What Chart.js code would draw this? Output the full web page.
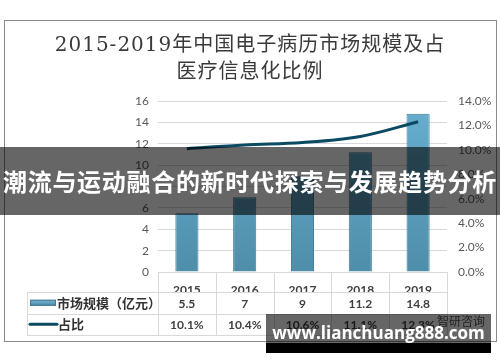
<!DOCTYPE html>
<html>
<head>
<meta charset="utf-8">
<script src="https://cdn.jsdelivr.net/npm/chart.js@4.4.0/dist/chart.umd.min.js"></script>
<style>
  html, body { margin: 0; padding: 0; background: #fff; }
  #wrap { position: relative; width: 500px; height: 362px; overflow: hidden; }
  #chart { position: absolute; left: 0; top: 0; }
  #frame { position: absolute; left: 4px; top: 20px; width: 491px; height: 320px; border: 1px solid #8a8a8a; }
  #title { position: absolute; left: 0; top: 31px; width: 500px; text-align: center; color: #3a3a3a;
           font: 20px/27px "DejaVu Serif", "Noto Sans CJK SC", serif; letter-spacing: 1px; }
  #band { position: absolute; left: 0; top: 147px; width: 500px; height: 68px; background: rgba(0,0,0,0.6);
          color: #fff; font: bold 24px/68px "Noto Sans CJK SC", sans-serif; text-align: center; white-space: nowrap;
          letter-spacing: 0.7px; }
  #wmGray { position: absolute; left: 266px; top: 314px; width: 225px; height: 29px; background: rgba(0,0,0,0.6); }
  #wmBlack { position: absolute; left: 266px; top: 343px; width: 225px; height: 10px; background: #000; }
  #wmSrc { position: absolute; left: 437px; top: 313px; color: #222; font: 12px/16px "Noto Sans CJK SC", sans-serif; }
  #wmText { position: absolute; left: 266px; top: 321px; width: 225px; text-align: center; color: #fff;
            font: bold 17px/24px "Open Sans", sans-serif; white-space: nowrap; }
</style>
</head>
<body>
<div id="wrap">
  <div id="frame"></div>
  <canvas id="chart" width="500" height="362"></canvas>
  <div id="title">2015-2019年中国电子病历市场规模及占<br>医疗信息化比例</div>
  <div id="band">潮流与运动融合的新时代探索与发展趋势分析</div>
  <div id="wmGray"></div>
  <div id="wmBlack"></div>
  <div id="wmSrc">智研咨询</div>
  <div id="wmText">www.lianchuang888.com</div>
</div>
<script>
// data
const years = ["2015", "2016", "2017", "2018", "2019"];
const marketSize = [5.5, 7, 9, 11.2, 14.8];      // 亿元
const shareRatio = [10.1, 10.4, 10.6, 11.1, 12.3]; // %
const sizeName = "市场规模（亿元）";
const ratioName = "占比";
const leftTicks = [0, 2, 4, 6, 8, 10, 12, 14, 16];
const rightTicks = [0, 2, 4, 6, 8, 10, 12, 14];

const lineColor = "#0b4a62";
const gridColor = "#d9d9d9";
const textColor = "#404040";

function barGradient(ctx, area) {
  const g = ctx.createLinearGradient(0, area.top, 0, area.bottom);
  g.addColorStop(0, "#67afd1");
  g.addColorStop(1, "#4f8ea9");
  return g;
}

// draws the data table under the x axis (Excel style)
const tablePlugin = {
  id: "dataTable",
  afterDraw(chart) {
    const ctx = chart.ctx;
    const x = chart.scales.x;
    const area = chart.chartArea;
    const step = (area.right - area.left) / years.length;
    const left = 27;
    const rows = [area.bottom, 292, 313.5, 335];

    ctx.save();
    ctx.strokeStyle = gridColor;
    ctx.lineWidth = 1;
    ctx.beginPath();
    ctx.moveTo(area.left, rows[0] + 0.5); ctx.lineTo(area.right, rows[0] + 0.5);
    for (let i = 1; i < rows.length; i++) {
      ctx.moveTo(left, Math.round(rows[i]) + 0.5);
      ctx.lineTo(area.right, Math.round(rows[i]) + 0.5);
    }
    for (let i = 0; i <= years.length; i++) {
      const vx = Math.round(area.left + step * i) + 0.5;
      ctx.moveTo(vx, rows[0]); ctx.lineTo(vx, rows[3]);
    }
    ctx.moveTo(left + 0.5, rows[1]); ctx.lineTo(left + 0.5, rows[3]);
    ctx.stroke();

    // values
    ctx.fillStyle = textColor;
    ctx.font = "bold 12px Lato, sans-serif";
    ctx.textAlign = "center";
    ctx.textBaseline = "middle";
    years.forEach((y, i) => {
      const cx = x.getPixelForValue(i);
      ctx.fillText(String(marketSize[i]), cx, (rows[1] + rows[2]) / 2 + 1);
      ctx.fillText(shareRatio[i].toFixed(1) + "%", cx, (rows[2] + rows[3]) / 2 + 1);
    });

    // legend keys
    const sy = (rows[1] + rows[2]) / 2;
    const g = ctx.createLinearGradient(0, sy - 3, 0, sy + 3);
    g.addColorStop(0, "#7cbbd8");
    g.addColorStop(1, "#4a87a3");
    ctx.fillStyle = g;
    ctx.fillRect(30, sy - 3, 26, 6);
    ctx.strokeStyle = "#3f7890";
    ctx.strokeRect(30.5, sy - 2.5, 25, 5);

    const ly = (rows[2] + rows[3]) / 2;
    ctx.strokeStyle = lineColor;
    ctx.lineWidth = 3;
    ctx.lineCap = "round";
    ctx.beginPath();
    ctx.moveTo(30, ly); ctx.lineTo(57, ly);
    ctx.stroke();

    ctx.fillStyle = "#333";
    ctx.font = "bold 13px 'Noto Sans CJK SC', sans-serif";
    ctx.textAlign = "left";
    ctx.fillText(sizeName, 57, sy);
    ctx.fillText(ratioName, 58, ly);
    ctx.restore();
  }
};

new Chart(document.getElementById("chart"), {
  type: "bar",
  data: {
    labels: years,
    datasets: [
      {
        type: "line",
        label: ratioName,
        data: shareRatio,
        yAxisID: "y1",
        borderColor: lineColor,
        borderWidth: 3,
        tension: 0.35,
        pointRadius: 0,
        order: 0
      },
      {
        type: "bar",
        label: sizeName,
        data: marketSize,
        yAxisID: "y",
        backgroundColor: (c) => c.chart.chartArea ? barGradient(c.chart.ctx, c.chart.chartArea) : "#5a9fc0",
        borderColor: "#3f7890",
        borderWidth: 1,
        categoryPercentage: 1,
        barPercentage: 0.4,
        order: 1
      }
    ]
  },
  options: {
    responsive: false,
    animation: false,
    layout: { padding: { left: 118, right: 8, top: 101, bottom: 70 } },
    plugins: { legend: { display: false }, tooltip: { enabled: false } },
    scales: {
      x: {
        grid: { display: false },
        border: { display: false },
        ticks: { color: textColor, font: { family: "Lato", size: 12, weight: "bold" }, padding: 3 },
        afterFit: (s) => { s.height = 20; }
      },
      y: {
        position: "left",
        min: 0, max: 16,
        afterBuildTicks: (s) => { s.ticks = leftTicks.map(v => ({ value: v })); },
        grid: { color: gridColor, drawTicks: false },
        border: { display: false },
        ticks: { color: "#595959", font: { family: "Lato", size: 12 }, padding: 9 },
        afterFit: (s) => { s.width = 40; }
      },
      y1: {
        position: "right",
        min: 0, max: 14,
        afterBuildTicks: (s) => { s.ticks = rightTicks.map(v => ({ value: v })); },
        grid: { display: false, drawTicks: false },
        border: { display: false },
        ticks: { color: "#595959", font: { family: "Lato", size: 12 }, padding: 11,
                 callback: (v) => v.toFixed(1) + "%" },
        afterFit: (s) => { s.width = 45; }
      }
    }
  },
  plugins: [tablePlugin]
});
</script>
</body>
</html>
